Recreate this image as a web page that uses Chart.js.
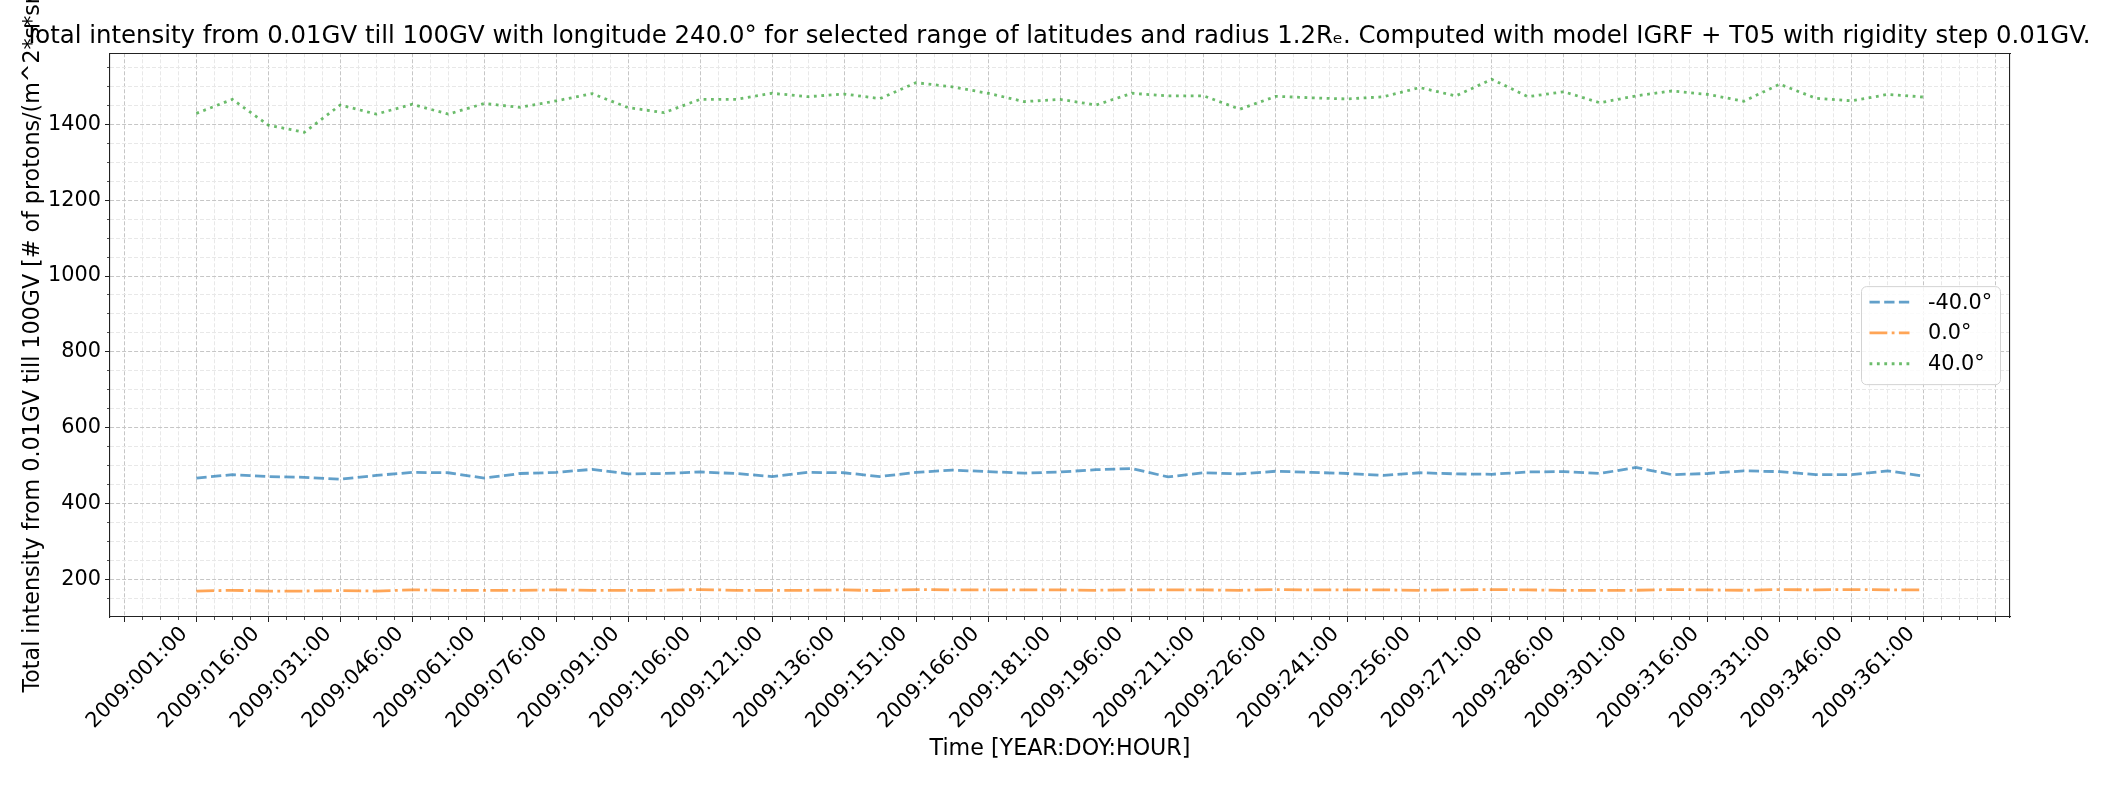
<!DOCTYPE html>
<html><head><meta charset="utf-8">
<script src="https://cdn.jsdelivr.net/npm/chart.js@4.4.0/dist/chart.umd.min.js"></script>
<style>html,body{margin:0;padding:0;background:#fff;}canvas{display:block;}</style>
</head><body>
<canvas id="c" width="2115" height="785"></canvas>
<script>
// ---- data ----
const times = ["2009:001:00","2009:008:12","2009:016:00","2009:023:12","2009:031:00","2009:038:12","2009:046:00","2009:053:12","2009:061:00","2009:068:12","2009:076:00","2009:083:12","2009:091:00","2009:098:12","2009:106:00","2009:113:12","2009:121:00","2009:128:12","2009:136:00","2009:143:12","2009:151:00","2009:158:12","2009:166:00","2009:173:12","2009:181:00","2009:188:12","2009:196:00","2009:203:12","2009:211:00","2009:218:12","2009:226:00","2009:233:12","2009:241:00","2009:248:12","2009:256:00","2009:263:12","2009:271:00","2009:278:12","2009:286:00","2009:293:12","2009:301:00","2009:308:12","2009:316:00","2009:323:12","2009:331:00","2009:338:12","2009:346:00","2009:353:12","2009:361:00"];
const tickLabels = ["2009:001:00","2009:016:00","2009:031:00","2009:046:00","2009:061:00","2009:076:00","2009:091:00","2009:106:00","2009:121:00","2009:136:00","2009:151:00","2009:166:00","2009:181:00","2009:196:00","2009:211:00","2009:226:00","2009:241:00","2009:256:00","2009:271:00","2009:286:00","2009:301:00","2009:316:00","2009:331:00","2009:346:00","2009:361:00"];
const seriesLabels = ["-40.0°","0.0°","40.0°"];
const latMinus40 = [467,476,471,469,464,474,482,481,467,479,482,490,478,479,483,479,471,482,481,471,482,488,484,480,483,489,492,470,481,478,485,482,479,474,481,478,477,483,484,479,495,476,479,486,484,476,476,486,472];
const latZero = [169,171,169,169,170,169,172,171,171,171,172,171,171,171,173,171,171,171,172,170,173,172,172,172,172,171,172,172,172,171,173,172,172,172,171,172,173,172,171,171,171,173,172,171,173,172,173,172,172];
const latPlus40 = [1429,1466,1398,1379,1451,1427,1453,1427,1455,1445,1462,1481,1444,1431,1466,1466,1482,1473,1480,1468,1510,1499,1482,1460,1466,1451,1482,1475,1475,1440,1474,1470,1467,1473,1497,1475,1519,1473,1486,1457,1475,1488,1479,1461,1506,1469,1462,1479,1472];
const yTickValues = [200,400,600,800,1000,1200,1400];
const titleText = "Total intensity from 0.01GV till 100GV with longitude 240.0° for selected range of latitudes and radius 1.2Rₑ. Computed with model IGRF + T05 with rigidity step 0.01GV.";
const yTitle = "Total intensity from 0.01GV till 100GV [# of protons/(m^2*s*sr)]";
const xTitle = "Time [YEAR:DOY:HOUR]";

// ---- style ----
const FONT = "'DejaVu Sans', 'Liberation Sans', sans-serif";
const FS = 20.8, FS_LABEL = 22.2, FS_TITLE = 24.4;
Chart.defaults.font.family = FONT;
Chart.defaults.font.size = FS;
Chart.defaults.color = '#000';
const X_MIN = -2.4, X_MAX = 50.4, Y_MIN = 100.5, Y_MAX = 1587.5;
const MAJOR_GRID = '#c6c6c6', MINOR_GRID = '#e8e8e8', SPINE = '#222';

const toXY = arr => arr.map((v, i) => ({x: i, y: v}));

const legendBox = {
  id: 'legendBox',
  afterDraw(chart) {
    const ctx = chart.ctx, ca = chart.chartArea;
    const w = 139, h = 98;
    const x0 = ca.right - 10 - w, y0 = (ca.top + ca.bottom) / 2 - h / 2;
    ctx.save();
    ctx.beginPath();
    if (ctx.roundRect) ctx.roundRect(x0 + 0.5, y0 + 0.5, w, h, 5); else ctx.rect(x0 + 0.5, y0 + 0.5, w, h);
    ctx.fillStyle = 'rgba(255,255,255,0.8)';
    ctx.fill();
    ctx.strokeStyle = '#d3d3d3';
    ctx.lineWidth = 1;
    ctx.stroke();
    chart.data.datasets.forEach((ds, i) => {
      const y = y0 + 16 + i * 30.8;
      ctx.strokeStyle = ds.borderColor;
      ctx.lineWidth = ds.borderWidth;
      ctx.lineCap = 'butt';
      ctx.setLineDash(ds.borderDash || []);
      ctx.beginPath();
      ctx.moveTo(x0 + 8.5, y);
      ctx.lineTo(x0 + 48.5, y);
      ctx.stroke();
      ctx.setLineDash([]);
      ctx.fillStyle = '#000';
      ctx.font = FS + 'px ' + FONT;
      ctx.textAlign = 'left';
      ctx.textBaseline = 'middle';
      ctx.fillText(ds.label, x0 + 67, y + 1);
    });
    ctx.restore();
  }
};

const LW = 2.78;
new Chart(document.getElementById('c'), {
  type: 'line',
  data: {
    datasets: [
      {label: seriesLabels[0], data: toXY(latMinus40), borderColor: 'rgba(31,119,180,0.7)', borderWidth: LW, borderDash: [10.3, 4.4], pointRadius: 0, tension: 0, fill: false},
      {label: seriesLabels[1], data: toXY(latZero), borderColor: 'rgba(255,127,14,0.7)', borderWidth: LW, borderDash: [17.8, 4.4, 2.8, 4.4], pointRadius: 0, tension: 0, fill: false},
      {label: seriesLabels[2], data: toXY(latPlus40), borderColor: 'rgba(44,160,44,0.7)', borderWidth: LW, borderDash: [2.8, 4.6], pointRadius: 0, tension: 0, fill: false}
    ]
  },
  options: {
    responsive: false,
    animation: false,
    devicePixelRatio: 1,
    layout: {padding: 0},
    plugins: {
      legend: {display: false},
      tooltip: {enabled: false},
      title: {display: true, text: titleText, color: '#000', font: {size: FS_TITLE, weight: 'normal', family: FONT}, padding: {top: 22, bottom: 2}}
    },
    scales: {
      x: {
        type: 'linear', position: 'bottom', weight: 1,
        min: X_MIN, max: X_MAX,
        afterBuildTicks: s => { const t = []; for (let v = -2; v <= 50; v += 2) t.push({value: v}); s.ticks = t; },
        afterFit: s => { s.height = 168; },
        ticks: {
          autoSkip: false, maxRotation: 45, minRotation: 45, padding: 0, labelOffset: -12,
          font: {size: FS},
          callback: v => (v >= 0 && v <= 48 && v % 2 === 0) ? tickLabels[v / 2] : ''
        },
        grid: {color: MAJOR_GRID, lineWidth: 1, tickLength: 5, tickColor: SPINE, tickWidth: 1},
        border: {display: true, color: SPINE, width: 1.1, dash: [4, 2]},
        title: {display: true, text: xTitle, font: {size: FS_LABEL}, padding: {top: 0, bottom: 22}}
      },
      xMinor: {
        type: 'linear', position: 'bottom', weight: 0,
        min: X_MIN, max: X_MAX,
        afterBuildTicks: s => { const t = []; for (let v = -2.0; v <= 50.4; v += 0.5) { if (Math.abs(v % 2) > 1e-9) t.push({value: v}); } s.ticks = t; },
        afterFit: s => { s.height = 0; },
        ticks: {display: false},
        grid: {color: MINOR_GRID, lineWidth: 1, tickLength: 3, tickColor: SPINE, tickWidth: 0.8},
        border: {display: false, dash: [4, 2]}
      },
      xTop: {
        type: 'linear', position: 'top', min: X_MIN, max: X_MAX,
        afterFit: s => { s.height = 0; },
        ticks: {display: false},
        grid: {display: false, drawTicks: false},
        border: {display: true, color: SPINE, width: 1.1}
      },
      y: {
        type: 'linear', position: 'left', weight: 1,
        min: Y_MIN, max: Y_MAX,
        afterBuildTicks: s => { s.ticks = yTickValues.map(v => ({value: v})); },
        afterFit: s => { s.width = 110; },
        ticks: {padding: 4, font: {size: FS}, callback: v => String(v)},
        grid: {color: MAJOR_GRID, lineWidth: 1, tickLength: 5, tickColor: SPINE, tickWidth: 1},
        border: {display: true, color: SPINE, width: 1.1, dash: [4, 2]},
        title: {display: true, text: yTitle, font: {size: FS_LABEL}, padding: {top: 20, bottom: 0}}
      },
      yMinor: {
        type: 'linear', position: 'left', weight: 0,
        min: Y_MIN, max: Y_MAX,
        afterBuildTicks: s => { const t = []; for (let v = 150; v < Y_MAX; v += 50) { if (v % 200 !== 0) t.push({value: v}); } s.ticks = t; },
        afterFit: s => { s.width = 0; },
        ticks: {display: false},
        grid: {color: MINOR_GRID, lineWidth: 1, tickLength: 3, tickColor: SPINE, tickWidth: 0.8},
        border: {display: false, dash: [4, 2]}
      },
      yRight: {
        type: 'linear', position: 'right', min: Y_MIN, max: Y_MAX,
        afterFit: s => { s.width = 105; },
        ticks: {display: false},
        grid: {display: false, drawTicks: false},
        border: {display: true, color: SPINE, width: 1.1}
      }
    }
  },
  plugins: [legendBox]
});
</script>
</body></html>
